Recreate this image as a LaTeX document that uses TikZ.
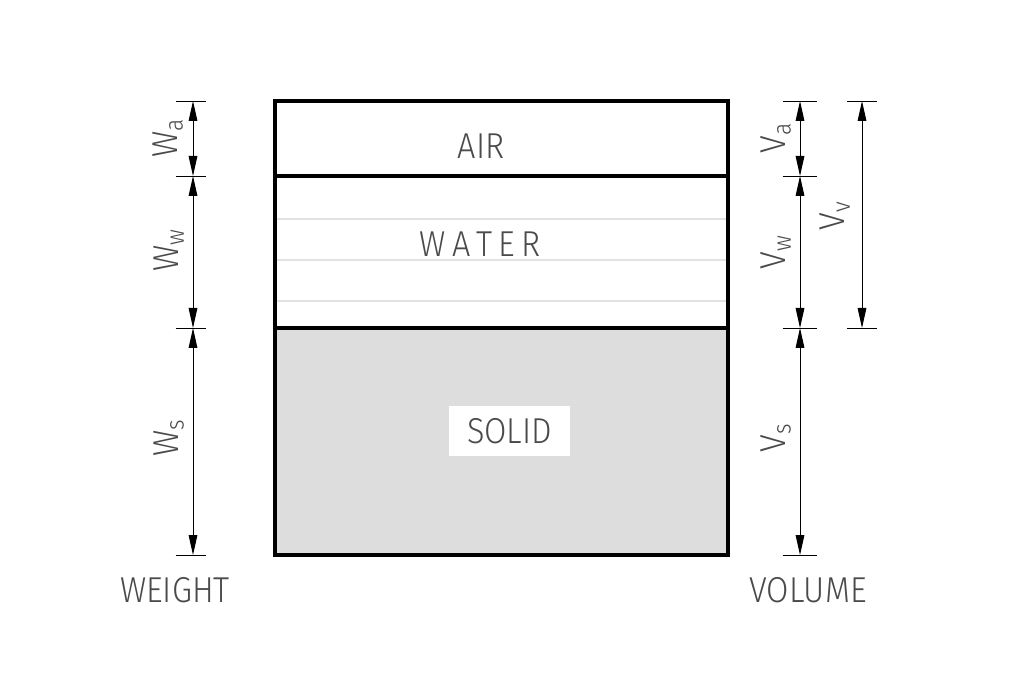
\documentclass[tikz,border=0pt]{standalone}
\usepackage{fontspec}
\setmainfont{Fira Sans Light}[FakeStretch=0.9]
\usetikzlibrary{arrows.meta}
\definecolor{solidgray}{HTML}{DDDDDD}
\definecolor{faintline}{HTML}{E2E2E2}
\definecolor{txt}{HTML}{4A4A4A}
\begin{document}
\begin{tikzpicture}[x=0.75pt,y=0.75pt,
  lbl/.style={text=txt,font=\fontsize{27}{30}\selectfont,inner sep=0pt},
  dim/.style={line width=0.75pt,{Triangle[length=15pt,width=6.5pt]}-{Triangle[length=15pt,width=6.5pt]}},
  tickline/.style={line width=0.7pt},
  boxline/.style={line width=2.4pt},
  faint/.style={draw=faintline,line width=0.8pt}]
\useasboundingbox (0,0) rectangle (1012,685);
% solid fill
\fill[solidgray] (275,130) rectangle (728,357);
% faint water lines
\draw[faint] (275,466) -- (728,466);
\draw[faint] (275,425) -- (728,425);
\draw[faint] (275,384) -- (728,384);
% box outlines
\draw[boxline] (275,130) rectangle (728,584);
\draw[boxline] (275,509) -- (728,509);
\draw[boxline] (275,357) -- (728,357);
% phase labels
\node[lbl] (air) at (481,539) {AIR};
\node[lbl] (water) at (480,441) {W\,A\,T\,E\,R};
\node[lbl,fill=white,minimum width=90.75pt,minimum height=37.5pt] (solid) at (509.5,254) {SOLID};
% left dimension coordinates
\coordinate (L1) at (193,584);
\coordinate (L2) at (193,509);
\coordinate (L3) at (193,357);
\coordinate (L4) at (193,130);
\foreach \c in {L1,L2,L3,L4}{\draw[tickline] ([xshift=-13]\c) -- ([xshift=10]\c);}
\draw[dim] (L1) -- (L2);
\draw[dim] (L2) -- (L3);
\draw[dim] (L3) -- (L4);
\node[lbl,rotate=90] (wa) at (168,547) {W\textsubscript{a}};
\node[lbl,rotate=90] (ww) at (169,435) {W\textsubscript{w}};
\node[lbl,rotate=90] (ws) at (169,247) {W\textsubscript{s}};
% right dimension coordinates
\coordinate (R1) at (800,584);
\coordinate (R2) at (800,509);
\coordinate (R3) at (800,357);
\coordinate (R4) at (800,130);
\foreach \c in {R1,R2,R3,R4}{\draw[tickline] ([xshift=-13]\c) -- ([xshift=13]\c);}
\draw[dim] (R1) -- (R2);
\draw[dim] (R2) -- (R3);
\draw[dim] (R3) -- (R4);
\coordinate (V1) at (862,584);
\coordinate (V2) at (862,357);
\foreach \c in {V1,V2}{\draw[tickline] ([xshift=-11]\c) -- ([xshift=11]\c);}
\draw[dim] (V1) -- (V2);
\node[lbl,rotate=90] (va) at (776,547) {V\textsubscript{a}};
\node[lbl,rotate=90] (vw) at (776,433) {V\textsubscript{w}};
\node[lbl,rotate=90] (vs) at (776,247) {V\textsubscript{s}};
\node[lbl,rotate=90] (vv) at (835,469) {V\textsubscript{v}};
% bottom labels
\node[lbl] (weight) at (175,95) {WEIGHT};
\node[lbl] (volume) at (808,95) {VOLUME};
\end{tikzpicture}
\end{document}
